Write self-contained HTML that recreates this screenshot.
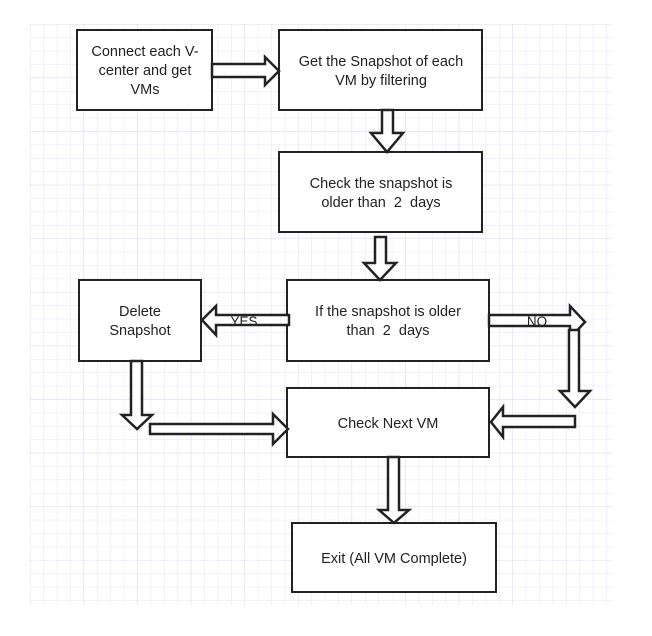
<!DOCTYPE html>
<html><head><meta charset="utf-8"><style>
html,body{margin:0;padding:0;background:#fff;}
svg{display:block;}
text{font-family:"Liberation Sans",Arial,sans-serif;font-size:14.5px;fill:#222;text-anchor:middle;white-space:pre;}
</style></head><body>
<svg width="652" height="636" viewBox="0 0 652 636" xmlns="http://www.w3.org/2000/svg">
<defs>
<pattern id="g" x="30" y="24" width="13.4" height="13.4" patternUnits="userSpaceOnUse">
<path d="M0 0H13.4M0 0V13.4" stroke="#e6e6f8" stroke-width="1" fill="none"/>
</pattern>
<pattern id="G" x="30" y="24" width="53.6" height="53.6" patternUnits="userSpaceOnUse">
<path d="M0 0H53.6M0 0V53.6" stroke="#dcdcf4" stroke-width="1" fill="none"/>
</pattern>
</defs>
<rect x="30" y="24" width="582" height="581" fill="url(#g)"/>
<rect x="30" y="24" width="582" height="581" fill="url(#G)"/>
<g fill="#fff" stroke="#222" stroke-width="2">
<rect x="77" y="30" width="135" height="80"/>
<rect x="279" y="30" width="203" height="80"/>
<rect x="279" y="152" width="203" height="80"/>
<rect x="287" y="280" width="202" height="81"/>
<rect x="79" y="280" width="122" height="81"/>
<rect x="287" y="388" width="202" height="69"/>
<rect x="292" y="523" width="204" height="69"/>
</g>
<g fill="#fff" stroke="#222" stroke-width="2.5" stroke-linejoin="miter">
<path d="M212 64H265V57L279 71L265 85V77H212Z"/>
<path d="M382 110H393V133H403L387 152L371 133H382Z"/>
<path d="M375 237H386V263H396L380 280L364 263H375Z"/>
<path d="M289 315V325H216V335L202 320L216 306V315Z"/>
<path d="M489 315H570V306L585 322L570 338V326H489Z"/>
<path d="M569 330H579V391H590L575 407L560 391H569Z"/>
<path d="M575 416V427H503V437L491 422L503 407V416Z"/>
<path d="M131 361H142V415H152L137 429L122 415H131Z"/>
<path d="M150 424H273V414L288 429L273 444V434H150Z"/>
<path d="M388 457H399V510H409L394 523L379 510H388Z"/>
</g>
<text x="145" y="56">Connect each V-</text>
<text x="145" y="75">center and get</text>
<text x="145" y="94">VMs</text>
<text x="381" y="66">Get the Snapshot of each</text>
<text x="381" y="85">VM by filtering</text>
<text x="381" y="188">Check the snapshot is</text>
<text x="381" y="207">older than  2  days</text>
<text x="388" y="316">If the snapshot is older</text>
<text x="388" y="335">than  2  days</text>
<text x="140" y="316">Delete</text>
<text x="140" y="335">Snapshot</text>
<text x="244" y="326" style="font-size:13.5px">YES</text>
<text x="537" y="326" style="font-size:13.5px">NO</text>
<text x="388" y="428">Check Next VM</text>
<text x="394" y="563">Exit (All VM Complete)</text>
</svg>
</body></html>
